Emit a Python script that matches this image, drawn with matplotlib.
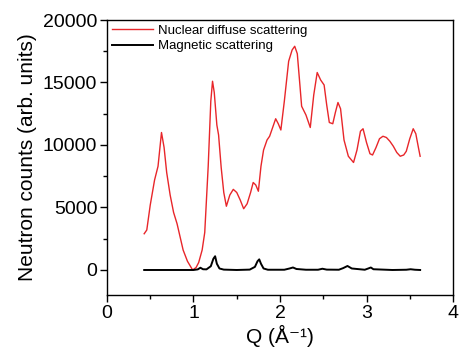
import matplotlib
matplotlib.use("Agg")
import matplotlib.pyplot as plt
from matplotlib.ticker import MultipleLocator

plt.rcParams['font.family'] = ['Liberation Sans', 'DejaVu Sans']

nuc_q = [0.43, 0.46, 0.50, 0.55, 0.59, 0.63, 0.66, 0.69, 0.73, 0.77, 0.81, 0.85, 0.88, 0.93, 0.99,
         1.03, 1.06, 1.10, 1.13, 1.17, 1.20, 1.22, 1.24, 1.27, 1.29, 1.32, 1.35, 1.38, 1.42, 1.46, 1.50,
         1.54, 1.58, 1.62, 1.66, 1.69, 1.72, 1.75, 1.78, 1.81, 1.85, 1.88, 1.92, 1.95, 1.98, 2.01,
         2.05, 2.10, 2.14, 2.17, 2.20, 2.23, 2.25, 2.30, 2.35, 2.39, 2.43, 2.47, 2.51, 2.54, 2.57,
         2.61, 2.64, 2.67, 2.70, 2.74, 2.79, 2.85, 2.89, 2.93, 2.96, 3.00, 3.04, 3.07, 3.11, 3.15,
         3.19, 3.23, 3.27, 3.31, 3.35, 3.39, 3.43, 3.46, 3.50, 3.54, 3.57, 3.60, 3.62]
nuc_v = [2900, 3200, 5200, 7200, 8300, 11000, 9800, 7800, 6000, 4600, 3700, 2500, 1600, 700, 0,
         200, 600, 1600, 3000, 8300, 13500, 15100, 14200, 11600, 10800, 8200, 6200, 5100, 6000, 6450, 6200,
         5600, 4900, 5300, 6200, 7000, 6800, 6300, 8300, 9600, 10400, 10700, 11500, 12100, 11700, 11200,
         13500, 16700, 17600, 17900, 17300, 14800, 13100, 12400, 11400, 14000, 15800, 15200, 14800, 13200, 11800,
         11700, 12600, 13400, 12900, 10400, 9100, 8600, 9600, 11100, 11300, 10200, 9300, 9200, 9800, 10500,
         10700, 10600, 10300, 9900, 9400, 9100, 9200, 9500, 10500, 11300, 10900, 9800, 9100]

mag_q = [0.43, 0.80, 1.00, 1.05, 1.08, 1.11, 1.15, 1.20, 1.23, 1.25, 1.27, 1.30, 1.35, 1.50, 1.65,
         1.71, 1.74, 1.76, 1.78, 1.81, 1.86, 2.05, 2.11, 2.15, 2.19, 2.30, 2.44, 2.49, 2.54, 2.68,
         2.73, 2.78, 2.83, 2.98, 3.02, 3.05, 3.08, 3.30, 3.46, 3.51, 3.56, 3.62]
mag_v = [0, 0, 0, 50, 180, 60, 50, 300, 900, 1100, 500, 120, 30, 0, 30,
         250, 700, 850, 500, 120, 20, 20, 120, 200, 80, 20, 20, 100, 30, 20,
         150, 320, 120, 20, 120, 200, 60, 0, 20, 60, 20, 0]

fig = plt.figure(figsize=(4.6, 3.54), dpi=100)
ax = fig.add_axes([0.2326, 0.1667, 0.7522, 0.7768])
ax.plot(nuc_q, nuc_v, color='#e8262a', lw=1.0, label='Nuclear diffuse scattering')
ax.plot(mag_q, mag_v, color='black', lw=1.4, label='Magnetic scattering')

ax.set_xlim(0, 4)
ax.set_ylim(-2000, 20000)
ax.xaxis.set_major_locator(MultipleLocator(1))
ax.xaxis.set_minor_locator(MultipleLocator(0.5))
ax.yaxis.set_major_locator(MultipleLocator(5000))
ax.yaxis.set_minor_locator(MultipleLocator(2500))
ax.tick_params(which='major', direction='out', length=5, width=1, labelsize=14, pad=2)
ax.tick_params(which='minor', direction='out', length=3, width=1)
ax.tick_params(top=False, right=False)
for s in ax.spines.values():
    s.set_linewidth(1.0)

ax.set_xlabel('Q (Å⁻¹)', fontsize=15, labelpad=2)
ax.set_ylabel('Neutron counts (arb. units)', fontsize=15, labelpad=4)

ax.legend(loc='upper left', frameon=False, fontsize=9.5, handlelength=3.1,
          handletextpad=0.4, borderaxespad=0.15, labelspacing=0.25, borderpad=0.2)

fig.savefig('out.png', dpi=100)
